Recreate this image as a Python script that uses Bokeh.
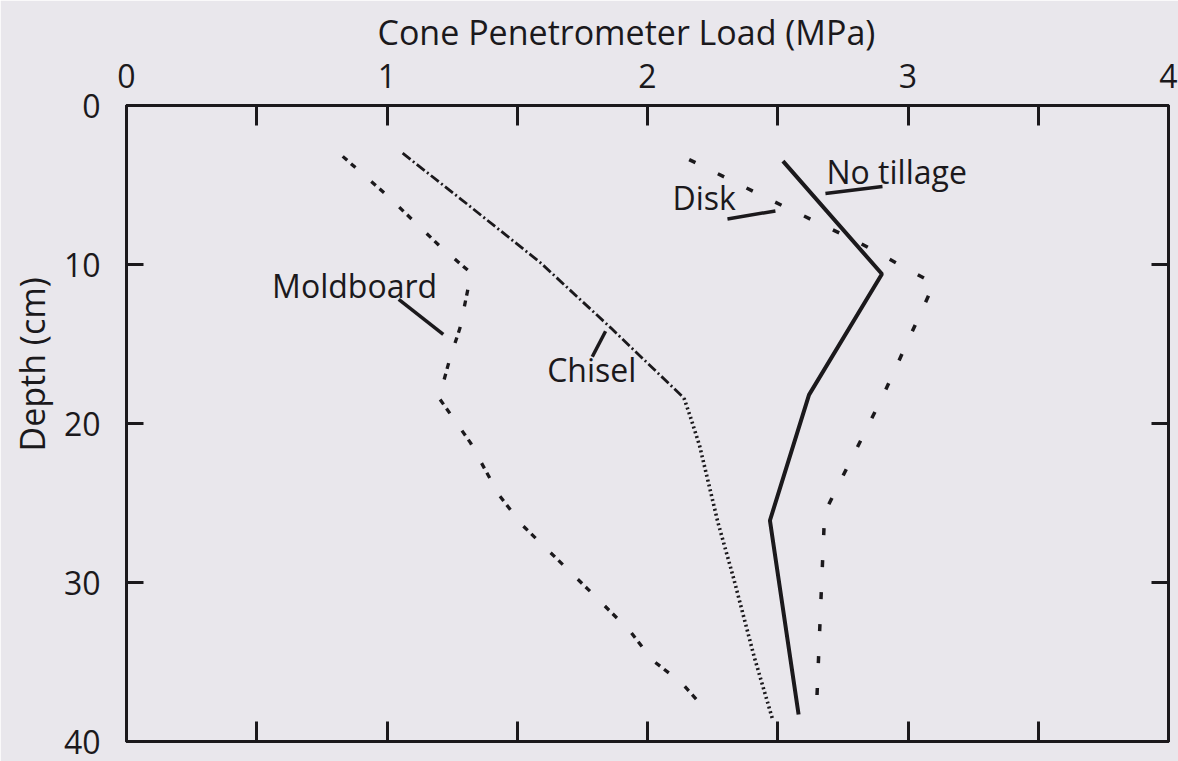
from bokeh.plotting import figure
from bokeh.models import Range1d, LinearAxis, FixedTicker, Label, Title
from bokeh.embed import file_html
from bokeh.resources import INLINE

# ---------------- data (depth in cm, load in MPa) ----------------
moldboard_depth = [3.2, 5.5, 8.8, 10.5, 11.6, 14.0, 16.0, 18.4, 21.2, 24.5, 26.4, 28.8, 30.4, 33.0, 34.9, 36.3, 38.3]
moldboard_load = [0.83, 0.99, 1.20, 1.32, 1.31, 1.28, 1.24, 1.20, 1.32, 1.43, 1.52, 1.67, 1.77, 1.93, 2.02, 2.13, 2.24]

chisel_depth = [3.0, 6.1, 9.9, 14.0, 18.4, 19.6, 21.4, 26.2, 29.7, 34.7, 38.6]
chisel_load = [1.06, 1.30, 1.59, 1.86, 2.14, 2.165, 2.20, 2.27, 2.33, 2.41, 2.48]
chisel_break = 4  # index where the drawn pattern changes

notill_depth = [3.5, 10.6, 18.2, 26.1, 38.3]
notill_load = [2.52, 2.90, 2.62, 2.47, 2.58]

disk_depth = [3.4, 6.0, 8.6, 11.2, 18.4, 25.6, 31.4, 37.4]
disk_load = [2.16, 2.48, 2.81, 3.10, 2.90, 2.68, 2.665, 2.65]

x_ticks = [0, 1, 2, 3, 4]
x_minor = [0.5, 1.5, 2.5, 3.5]
y_ticks = [0, 10, 20, 30, 40]

title_text = "Cone Penetrometer Load (MPa)"
ylabel_text = "Depth (cm)"

# label text, text x, text y, leader x0, y0, x1, y1
annotations = [
    ("No tillage", 2.687, 4.15, 2.683, 5.53, 2.902, 5.10),
    ("Disk", 2.096, 5.80, 2.307, 7.14, 2.491, 6.63),
    ("Moldboard", 0.559, 11.3, 1.045, 12.2, 1.216, 14.4),
    ("Chisel", 1.615, 16.6, 1.788, 15.8, 1.839, 14.2),
]

# ---------------- style ----------------
FONT = "Open Sans"
BG = "#e9e7ec"
INK = "#1b191c"

p = figure(width=1178, height=761, x_range=Range1d(0, 4), y_range=Range1d(40, 0),
           x_axis_location="above", output_backend="svg", toolbar_location=None,
           min_border_left=126, min_border_right=10, min_border_top=105, min_border_bottom=20)
p.background_fill_color = BG
p.border_fill_color = BG
p.outline_line_color = INK
p.outline_line_width = 3
p.xgrid.visible = False
p.ygrid.visible = False


def style_axis(ax, ticks, minor, tick_len, show_labels):
    ax.ticker = FixedTicker(ticks=ticks, minor_ticks=minor)
    ax.axis_line_color = INK
    ax.axis_line_width = 3
    ax.major_tick_in = tick_len
    ax.major_tick_out = 0
    ax.minor_tick_in = tick_len
    ax.minor_tick_out = 0
    ax.major_tick_line_color = INK
    ax.minor_tick_line_color = INK
    ax.major_tick_line_width = 3
    ax.minor_tick_line_width = 3
    ax.major_label_text_font = FONT
    if show_labels:
        ax.major_label_text_color = INK
        ax.major_label_text_font_size = "32px"
    else:
        ax.major_label_text_color = None
        ax.major_label_text_font_size = "0px"
        ax.major_label_standoff = 0


top = p.xaxis[0]
style_axis(top, x_ticks, x_minor, 20, True)
top.major_label_standoff = 18

bottom = LinearAxis()
style_axis(bottom, x_ticks, x_minor, 20, False)
p.add_layout(bottom, "below")

left = p.yaxis[0]
style_axis(left, y_ticks, [], 17, True)
left.major_label_standoff = 26

right = LinearAxis()
style_axis(right, y_ticks, [], 17, False)
p.add_layout(right, "right")

# axis titles placed as plot titles so they can be shifted like the original
p.title = Title(text=title_text, align="left", offset=251, text_font=FONT,
                text_font_size="34px", text_font_style="normal", text_color=INK, standoff=12)
p.add_layout(Title(text=ylabel_text, align="left", offset=290, text_font=FONT,
                   text_font_size="34px", text_font_style="normal", text_color=INK,
                   standoff=12), "left")

# ---------------- curves ----------------
p.line(moldboard_load, moldboard_depth, line_color=INK, line_width=3.3, line_dash="6 5 6 21")
p.line(chisel_load[:chisel_break + 1], chisel_depth[:chisel_break + 1], line_color=INK,
       line_width=2.8, line_dash="10 3 2 3")
p.line(chisel_load[chisel_break:], chisel_depth[chisel_break:], line_color=INK,
       line_width=3.6, line_dash="2 3")
p.line(notill_load, notill_depth, line_color=INK, line_width=4)
p.line(disk_load, disk_depth, line_color=INK, line_width=3.5, line_dash="7 25")

# ---------------- annotations ----------------
for text, tx, ty, x0, y0, x1, y1 in annotations:
    p.add_layout(Label(x=tx, y=ty, text=text, text_font=FONT, text_font_size="32px",
                       text_color=INK, text_align="left", text_baseline="alphabetic"))
    p.segment(x0=[x0], y0=[y0], x1=[x1], y1=[y1], line_color=INK, line_width=3.5)

open("out.html", "w").write(file_html(p, INLINE))
